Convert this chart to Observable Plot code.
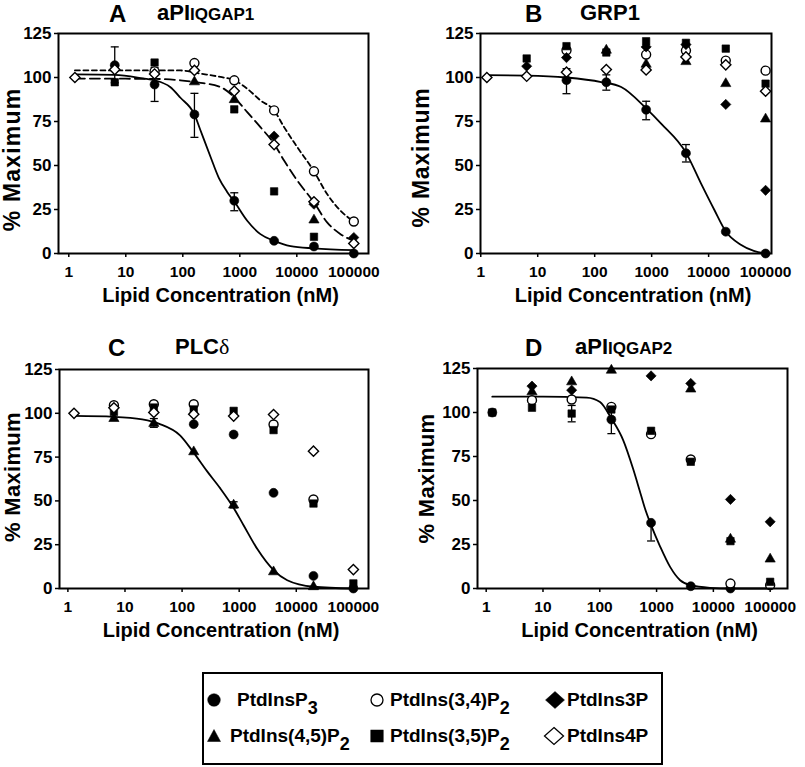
<!DOCTYPE html>
<html>
<head>
<meta charset="utf-8">
<script src="https://cdn.jsdelivr.net/npm/d3@7"></script>
<script src="https://cdn.jsdelivr.net/npm/@observablehq/plot@0.6"></script>
<style>
  html, body { margin: 0; padding: 0; background: #fff; }
  #root { position: relative; width: 805px; height: 767px; overflow: hidden; background: #fff;
          font-family: "Liberation Sans", Arial, sans-serif; color: #000; }
  .abs { position: absolute; white-space: nowrap; font-weight: bold; }
  .panel { position: absolute; }
  sub.s { font-size: 18px; vertical-align: baseline; position: relative; top: 8px; }
</style>
</head>
<body>
<div id="root"></div>
<script>
// ---------------- data ----------------
const conc = [1.28, 6.4, 32, 160, 800, 4000, 20000, 100000];          // nM
const xTicks = [1, 10, 100, 1000, 10000, 100000];
const yTicks = [0, 25, 50, 75, 100, 125];
const lipids = ["PtdInsP3", "PtdIns(3,4)P2", "PtdIns3P", "PtdIns(4,5)P2", "PtdIns(3,5)P2", "PtdIns4P"];

// Panel A  aPI IQGAP1  (% maximum, null = not visible)
const aP3   = [null, 107, 96, 79, 30, 7.2, 4, 0];
const a34P2 = [null, null, 103.5, 108.2, 98.4, 81.3, 46.7, 18.2];
const a3P   = [null, null, null, null, null, 66.7, 28, 9.1];
const a45P2 = [null, null, null, 97.5, 87.4, null, 19, null];
const a35P2 = [null, 97.3, 108.5, null, 81.9, 35.3, 9.5, null];
const a4P   = [100, 104.5, 102, 104, 92.3, 61.9, 29.4, 5.7];
const aErrLo = [null, 97, 86.4, 66, 24.3, null, null, null];
const aErrHi = [null, 117.4, 105.6, 91, 34.5, null, null, null];
const aFitSolidX = [1.28, 6.4, 20, 32, 60, 91, 160, 204, 306, 428, 600, 800, 1350, 2300, 4000, 7770, 20000, 100000];
const aFitSolidY = [101.8, 101.5, 99.5, 98.4, 94.6, 88.5, 79, 70, 55, 43, 35, 29.5, 18.6, 11, 7.2, 4.2, 2.9, 1.9];
const aFitLongX  = [1.28, 32, 91, 160, 457, 785, 1350, 2300, 4000, 5980, 10200, 20000, 34000, 58500, 100000];
const aFitLongY  = [99.4, 99.2, 98.4, 97.4, 94.6, 89, 80.3, 71.8, 62.3, 52.8, 41.4, 29, 17.7, 11, 7.2];
const aFitShortX = [1.28, 32, 91, 204, 457, 800, 1350, 2300, 4000, 5980, 10200, 20000, 34000, 58500, 100000];
const aFitShortY = [104.1, 104, 104, 102.2, 100.3, 98.4, 93.6, 87, 81.3, 71.8, 60.4, 46.7, 33.8, 24.3, 18.2];

// Panel B  GRP1
const bP3   = [null, null, 98.5, 97.3, 81.7, 57, 12.4, 0];
const b34P2 = [null, null, 115.5, null, 113, 115.3, 109.6, 103.9];
const b3P   = [null, 106.4, 111.3, null, 117.4, 118.7, 84.7, 35.9];
const b45P2 = [null, null, null, 115.5, 107.5, 109, 96.5, 76.4];
const b35P2 = [null, 110.8, 117.8, 114.2, 120.6, 119.7, 116.4, 96.5];
const b4P   = [100, 100.7, 103, 104.5, 104.3, 111.7, 107.2, 92.2];
const bErrLo = [null, null, 90.8, 92.8, 76, 52, null, null];
const bErrHi = [null, null, 105, 101.5, 86.5, 61.9, null, null];
const bFitX = [1.28, 6.4, 32, 130, 292, 800, 1480, 4000, 7300, 12500, 20000, 36700, 62000, 100000];
const bFitY = [101.3, 101.1, 100, 97.4, 94.6, 82.5, 73.7, 57.3, 40, 25, 12.5, 5, 1.5, 0];

// Panel C  PLCδ
const cP3   = [null, null, null, 93.8, 87.9, 54.6, 7.2, 0];
const c34P2 = [null, 104.6, 105.2, 105.2, null, 93.6, 50.8, null];
const c3P   = [null, null, null, null, null, null, null, null];
const c45P2 = [null, 97, 94.2, 78, 47.6, 9.5, 1, null];
const c35P2 = [null, 100.8, 103.3, 102.2, 101.4, 90.4, 48.5, 2.9];
const c4P   = [100, 103.1, 100.5, 99.5, 98.4, 99.3, 78.4, 10.8];
const cErrLo = [null, null, 92, null, 46, null, null, null];
const cErrHi = [null, null, 97, null, 49.5, null, null, null];
const cFitX = [1.28, 6.4, 20, 40, 93, 156, 273, 470, 800, 1200, 2080, 4000, 6940, 20000, 100000];
const cFitY = [98.5, 98, 96.5, 94, 87.3, 78, 67, 57, 46, 36, 22.5, 10.5, 4.7, 1, 0];

// Panel D  aPI IQGAP2
const dP3   = [100, null, null, 96, 37.3, 1.3, 0, null];
const d34P2 = [null, 107, 107.4, 103.2, 87.7, 73.3, 2.8, 1.9];
const d3P   = [null, 115, 112.7, null, 120.8, 116.5, 50.6, 37.9];
const d45P2 = [null, 111.7, 117.4, 124, null, 113.3, 28, 16.7];
const d35P2 = [100, 102.7, 99.4, 101.7, 89.6, 72, 26.9, 3.8];
const d4P   = [null, null, null, null, null, null, null, null];
const dErrLo = [null, null, 94.7, 88, 27, null, null, null];
const dErrHi = [null, null, 104, 104, 38, null, null, null];
const dFitX = [1.28, 10, 59, 101, 160, 258, 386, 500, 617, 800, 1150, 1730, 2600, 4000, 8700, 20000, 100000];
const dFitY = [109, 109, 108.5, 106, 96.6, 84.3, 68, 56, 46, 36, 24, 12.3, 4.7, 1.9, 0.4, 0, 0];

// ---------------- styles ----------------
const capSymbol = { draw(ctx) { ctx.moveTo(-4, 0); ctx.lineTo(4, 0); } };
const sty = {
  "PtdInsP3":      { symbol: d3.symbolCircle,   r: 4.5, fill: "black", open: false },
  "PtdIns(3,4)P2": { symbol: d3.symbolCircle,   r: 4.5, fill: "white", open: true },
  "PtdIns3P":      { symbol: d3.symbolDiamond2, r: 4.6, fill: "black", open: false },
  "PtdIns(4,5)P2": { symbol: d3.symbolTriangle, r: 3.8, fill: "black", open: false },
  "PtdIns(3,5)P2": { symbol: d3.symbolSquare,   r: 4.2, fill: "black", open: false },
  "PtdIns4P":      { symbol: d3.symbolDiamond2, r: 4.6, fill: "white", open: true }
};
const FONT = "'Liberation Sans', Arial, sans-serif";

function panel(cfg) {
  const rows = [];
  cfg.series.forEach((vals, k) => vals.forEach((v, i) => {
    if (v != null) rows.push({ lipid: lipids[k], conc: conc[i], pct: v });
  }));
  const errRows = conc.map((c, i) => ({ conc: c, lo: cfg.errLo[i], hi: cfg.errHi[i] })).filter(d => d.lo != null);
  const capRows = errRows.flatMap(d => [{ conc: d.conc, pct: d.lo }, { conc: d.conc, pct: d.hi }]);

  const marks = [];
  cfg.fits.forEach(f => {
    const fr = f.x.map((x, i) => ({ conc: x, pct: f.y[i] }));
    marks.push(Plot.line(fr, { x: "conc", y: "pct", curve: "monotone-x", stroke: "black", strokeWidth: 1.8, strokeDasharray: f.dash }));
  });
  marks.push(Plot.ruleX(errRows, { x: "conc", y1: "lo", y2: "hi", stroke: "black", strokeWidth: 1.3 }));
  marks.push(Plot.dot(capRows, { x: "conc", y: "pct", symbol: capSymbol, r: 3, fill: "none", stroke: "black", strokeWidth: 1.3 }));
  lipids.forEach(l => {
    const s = sty[l];
    marks.push(Plot.dot(rows.filter(r => r.lipid === l), {
      x: "conc", y: "pct", symbol: s.symbol, r: s.r, fill: s.fill,
      stroke: "black", strokeWidth: s.open ? 1.4 : 0.6
    }));
  });
  marks.push(Plot.frame({ stroke: "black", strokeWidth: 2 }));
  marks.push(Plot.axisX({ ticks: xTicks, tickFormat: d => String(d), tickSize: 4, tickPadding: 8,
    fontSize: 15.5, fontWeight: "bold", label: null, strokeWidth: 1.5 }));
  marks.push(Plot.axisY({ ticks: yTicks, tickSize: 4, tickPadding: 3,
    fontSize: 17, fontWeight: "bold", label: null, strokeWidth: 1.5 }));
  marks.push(Plot.text(["Lipid Concentration (nM)"], { text: d => d, frameAnchor: "bottom", dy: 42, dx: 7,
    fontSize: 20, fontWeight: "bold", lineAnchor: "middle", textAnchor: "middle" }));
  marks.push(Plot.text(["% Maximum"], { text: d => d, frameAnchor: "left", rotate: -90, dx: cfg.ylabDx, dy: cfg.ylabDy,
    fontSize: cfg.ylabSize, fontWeight: "bold", lineAnchor: "middle", textAnchor: "middle" }));

  const svg = Plot.plot({
    width: cfg.width, height: cfg.height,
    marginLeft: cfg.mL, marginRight: cfg.mR, marginTop: cfg.mT, marginBottom: cfg.mB,
    x: { type: "log", domain: cfg.xDomain },
    y: { domain: [0, 125] },
    style: { fontFamily: FONT, color: "black", background: "transparent", overflow: "visible" },
    marks
  });
  svg.querySelectorAll("text").forEach(t => {
    if (t.textContent === "% Maximum") t.style.letterSpacing = cfg.ylabSpacing + "px";
  });
  const holder = document.createElement("div");
  holder.className = "panel";
  holder.style.left = cfg.left + "px";
  holder.style.top = cfg.top + "px";
  holder.appendChild(svg);
  document.getElementById("root").appendChild(holder);
}

panel({ left: 0, top: 0, width: 400, height: 315, mL: 58, mR: 32, mT: 33, mB: 62,
  xDomain: [0.66, 181000],
  series: [aP3, a34P2, a3P, a45P2, a35P2, a4P], errLo: aErrLo, errHi: aErrHi,
  fits: [{ x: aFitSolidX, y: aFitSolidY, dash: null },
         { x: aFitLongX, y: aFitLongY, dash: "10,5" },
         { x: aFitShortX, y: aFitShortY, dash: "5,3.5" }],
  ylabDx: -45.5, ylabDy: 16, ylabSize: 23, ylabSpacing: 1.2 });

panel({ left: 400, top: 0, width: 400, height: 315, mL: 80, mR: 29, mT: 33, mB: 62,
  xDomain: [0.99, 127000],
  series: [bP3, b34P2, b3P, b45P2, b35P2, b4P], errLo: bErrLo, errHi: bErrHi,
  fits: [{ x: bFitX, y: bFitY, dash: null }],
  ylabDx: -59, ylabDy: 14, ylabSize: 23, ylabSpacing: 0.8 });

panel({ left: 0, top: 310, width: 400, height: 340, mL: 59, mR: 32, mT: 59, mB: 62,
  xDomain: [0.713, 184000],
  series: [cP3, c34P2, c3P, c45P2, c35P2, c4P], errLo: cErrLo, errHi: cErrHi,
  fits: [{ x: cFitX, y: cFitY, dash: null }],
  ylabDx: -47, ylabDy: -2, ylabSize: 22, ylabSpacing: 0.3 });

panel({ left: 400, top: 310, width: 400, height: 340, mL: 77, mR: 13, mT: 58, mB: 62,
  xDomain: [0.703, 202000],
  series: [dP3, d34P2, d3P, d45P2, d35P2, d4P], errLo: dErrLo, errHi: dErrHi,
  fits: [{ x: dFitX, y: dFitY, dash: null }],
  ylabDx: -51, ylabDy: 0, ylabSize: 22, ylabSpacing: 0.3 });

// ---------------- titles ----------------
const root = document.getElementById("root");
function putText(x, baseline, size, html, extra) {
  const d = document.createElement("div");
  d.className = "abs";
  d.style.left = x + "px";
  d.style.top = (baseline - 0.8465 * size) + "px";
  d.style.fontSize = size + "px";
  d.style.lineHeight = size + "px";
  if (extra) Object.assign(d.style, extra);
  d.innerHTML = html;
  root.appendChild(d);
  return d;
}
putText(109, 22, 24, "A");
putText(157, 21, 22, 'aPI<span style="font-size:17px">IQGAP1</span>');
putText(525, 22, 24, "B");
putText(580, 21, 22, "GRP1");
putText(108, 356, 24, "C");
putText(175, 355, 22, 'PLC<span style="font-family:\'Liberation Serif\',serif;font-weight:normal">δ</span>');
putText(525, 356, 24, "D");
putText(575, 355, 22, 'aPI<span style="font-size:17px">IQGAP2</span>');

// ---------------- legend ----------------
const box = document.createElement("div");
Object.assign(box.style, { position: "absolute", left: "202px", top: "672px", width: "461px", height: "93px",
  border: "2px solid #000", boxSizing: "border-box" });
root.appendChild(box);

function legendSymbol(cx, cy, kind) {
  const ns = "http://www.w3.org/2000/svg";
  const s = document.createElementNS(ns, "svg");
  s.setAttribute("width", 24); s.setAttribute("height", 24);
  s.style.position = "absolute"; s.style.left = (cx - 12) + "px"; s.style.top = (cy - 12) + "px";
  let el;
  if (kind === "dot" || kind === "ring") {
    el = document.createElementNS(ns, "circle");
    el.setAttribute("cx", 12); el.setAttribute("cy", 12); el.setAttribute("r", kind === "dot" ? 6.3 : 6);
  } else if (kind === "tri") {
    el = document.createElementNS(ns, "path"); el.setAttribute("d", "M12,5.5 L18.5,17.5 L5.5,17.5 Z");
  } else if (kind === "sq") {
    el = document.createElementNS(ns, "rect");
    el.setAttribute("x", 5.8); el.setAttribute("y", 6); el.setAttribute("width", 12.4); el.setAttribute("height", 12);
  } else {
    el = document.createElementNS(ns, "path"); el.setAttribute("d", "M12,3.5 L21.5,12 L12,20.5 L2.5,12 Z");
  }
  const open = kind === "ring" || kind === "odia";
  el.setAttribute("fill", open ? "white" : "black");
  el.setAttribute("stroke", "black");
  el.setAttribute("stroke-width", open ? 1.3 : 0.5);
  s.appendChild(el);
  root.appendChild(s);
}
const row1 = 706, row2 = 742, sym1 = 700, sym2 = 736;
legendSymbol(214, sym1, "dot");
putText(237, row1, 19, 'PtdInsP<sub class="s">3</sub>');
legendSymbol(376.5, sym1, "ring");
putText(390, row1, 19, 'PtdIns(3,4)P<sub class="s">2</sub>');
legendSymbol(555, sym1, "dia");
putText(567, row1, 19, 'PtdIns3P');
legendSymbol(214, sym2, "tri");
putText(230, row2, 19, 'PtdIns(4,5)P<sub class="s">2</sub>');
legendSymbol(376.5, sym2, "sq");
putText(390, row2, 19, 'PtdIns(3,5)P<sub class="s">2</sub>');
legendSymbol(554, sym2, "odia");
putText(567, row2, 19, 'PtdIns4P');
</script>
</body>
</html>
